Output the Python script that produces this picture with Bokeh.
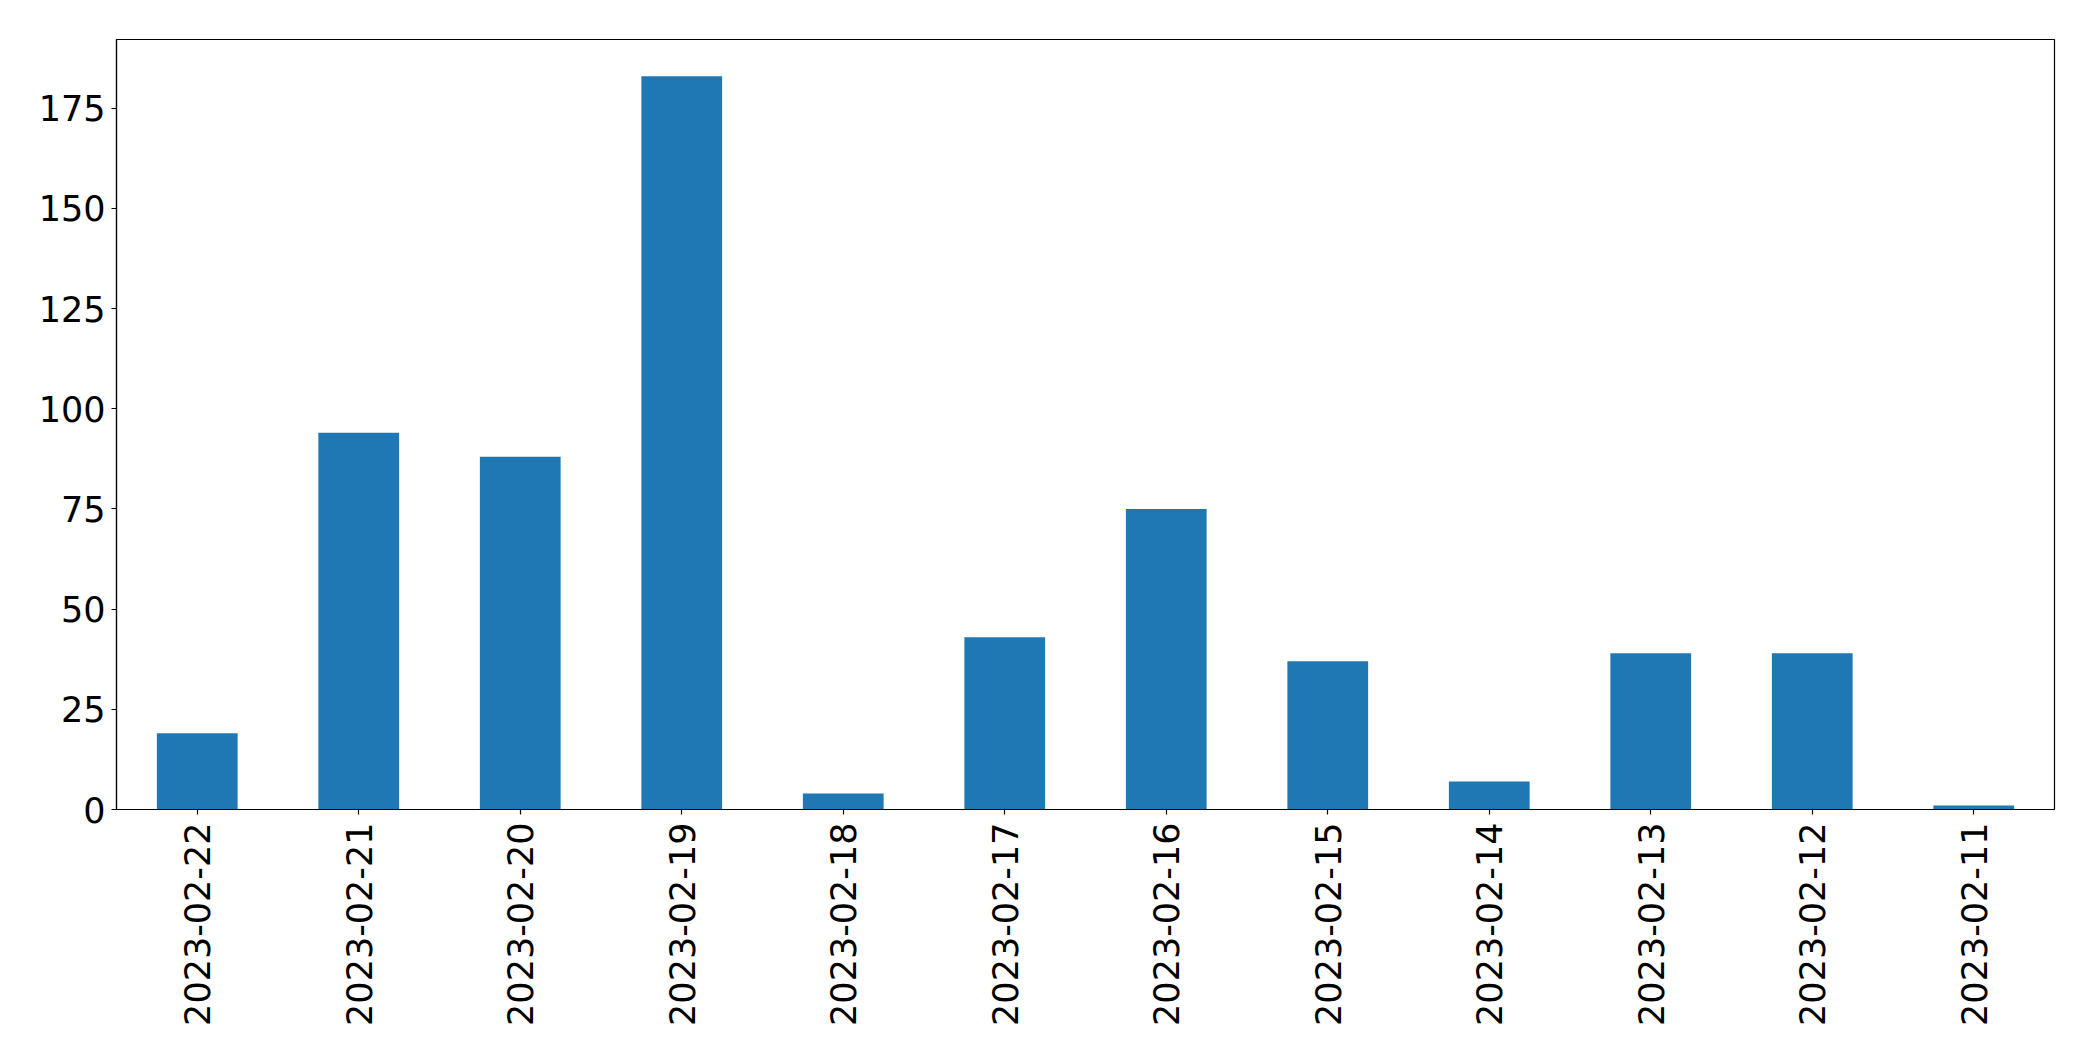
import math
from bokeh.plotting import figure
from bokeh.models import FactorRange, Range1d, FixedTicker, ColumnDataSource
from bokeh.embed import file_html
from bokeh.resources import INLINE

dates = ["2023-02-22", "2023-02-21", "2023-02-20", "2023-02-19", "2023-02-18", "2023-02-17",
         "2023-02-16", "2023-02-15", "2023-02-14", "2023-02-13", "2023-02-12", "2023-02-11"]
counts = [19, 94, 88, 183, 4, 43, 75, 37, 7, 39, 39, 1]
y_ticks = [0, 25, 50, 75, 100, 125, 150, 175]

src = ColumnDataSource(dict(date=dates, count=counts))

p = figure(width=2093, height=1061, output_backend="svg", toolbar_location=None,
           x_range=FactorRange(factors=dates, range_padding=0),
           y_range=Range1d(0, max(counts) * 1.05),
           min_border_left=116, min_border_right=39, min_border_top=39, min_border_bottom=252)

p.vbar(x="date", top="count", width=0.5, source=src, fill_color="#1f77b4", line_color=None)

p.xgrid.visible = False
p.ygrid.visible = False
p.outline_line_color = "black"
p.outline_line_width = 1.2
p.background_fill_color = "white"
p.border_fill_color = "white"

for ax in (p.xaxis[0], p.yaxis[0]):
    ax.axis_line_color = "black"
    ax.axis_line_width = 1.2
    ax.major_tick_line_color = "black"
    ax.major_tick_line_width = 1.2
    ax.major_tick_out = 5
    ax.major_tick_in = 0
    ax.minor_tick_line_color = None
    ax.major_label_text_font = "DejaVu Sans"
    ax.major_label_text_color = "black"
    ax.major_label_text_font_size = "35px"

p.yaxis[0].ticker = FixedTicker(ticks=y_ticks)
p.yaxis[0].major_label_standoff = 6
p.xaxis[0].major_label_orientation = math.pi / 2
p.xaxis[0].major_label_standoff = 8
p.xaxis[0].group_text_font_size = "0px"

open("out.html", "w").write(file_html(p, INLINE))
